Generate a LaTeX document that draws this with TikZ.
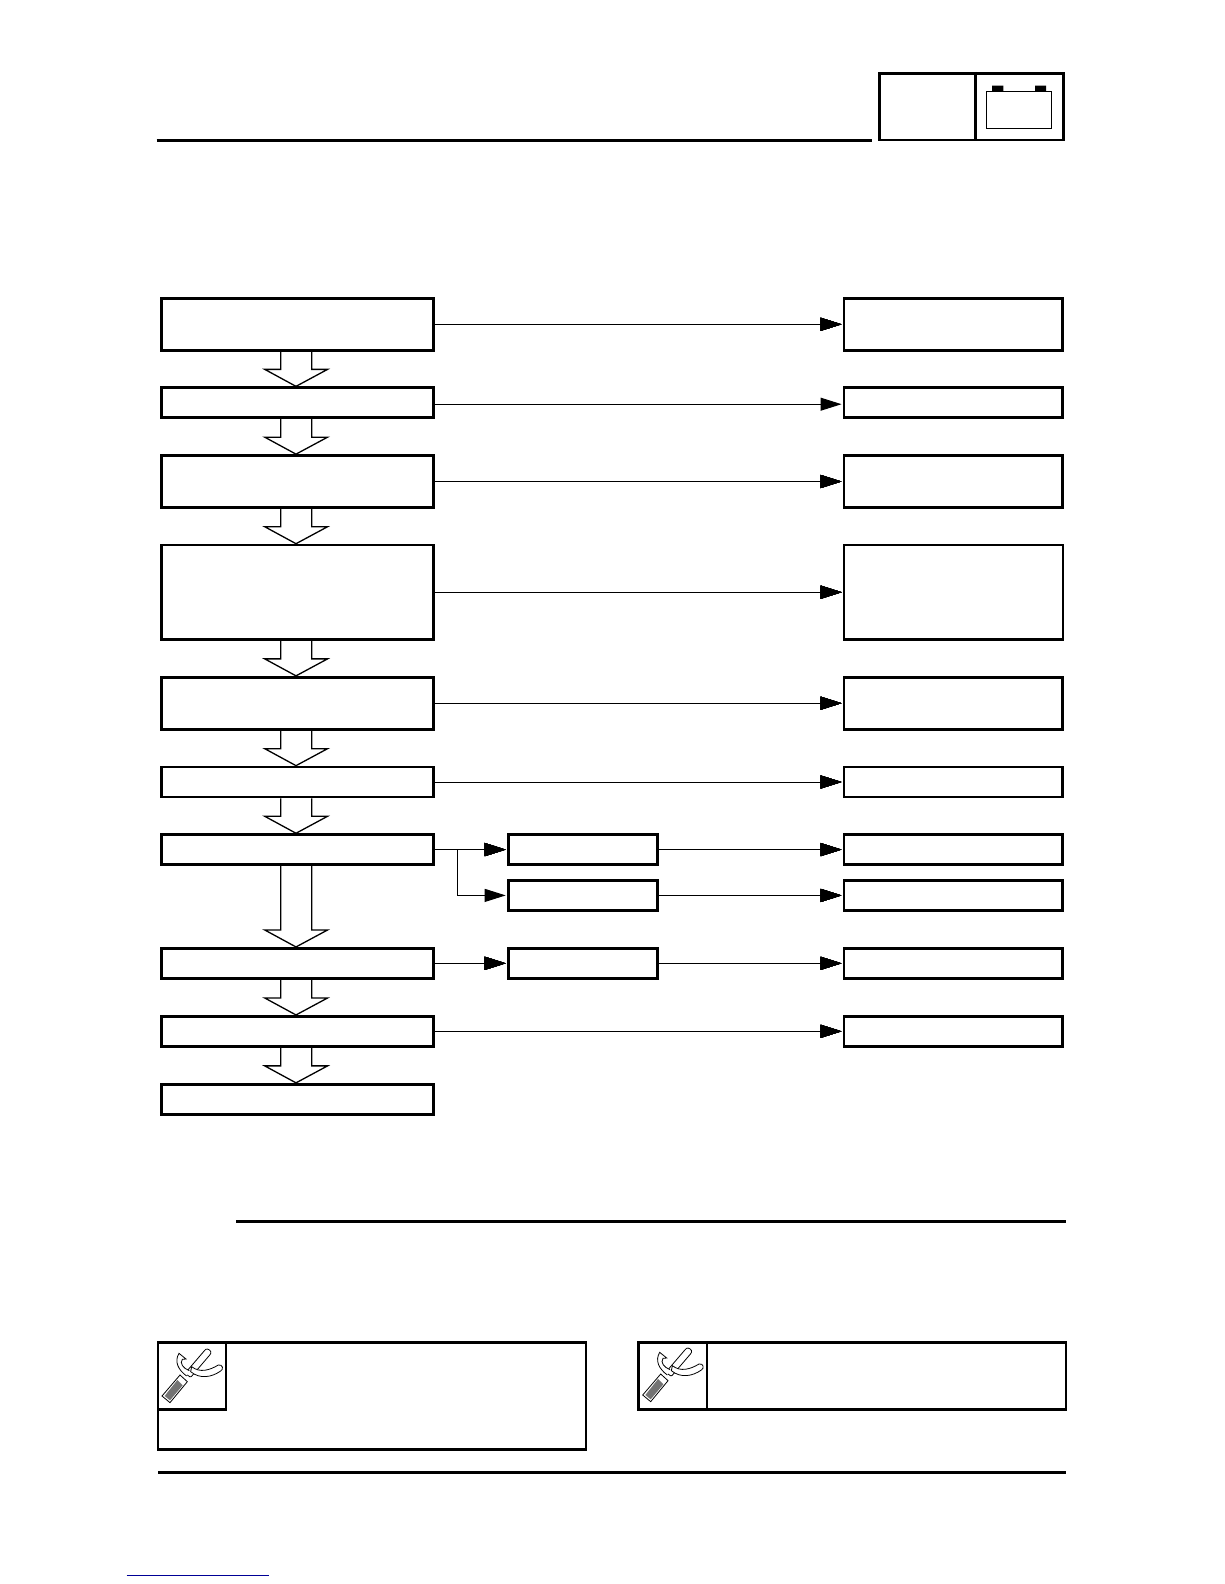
\documentclass[tikz,border=0pt]{standalone}
\usepackage{xcolor}
\usepackage{tikz}
\usetikzlibrary{arrows.meta,positioning,calc}
\definecolor{linkblue}{RGB}{0,0,150}
\tikzset{
    heavy box/.style={draw,line width=2.7pt,inner sep=0pt},
    left box/.style={heavy box,minimum width=272pt},
    right box/.style={heavy box,minimum width=218.7pt},
    mid box/.style={heavy box,minimum width=149.5pt},
    flat box/.style={minimum height=30pt},
    tall box/.style={minimum height=52pt},
    arr/.style={-{Triangle[length=21pt,width=13pt]},line width=1pt,shorten >=1.2pt},
    block line/.style={line width=1.3pt,line join=miter},
    heavy rule/.style={line width=3pt},
    tool line/.style={x=.3333pt,y=-.3333pt,line width=.8pt},
    pics/fittool/.style={code={
        \draw[tool line,fill=white,rounded corners=1pt]
            (105,160) -- (165,90) .. controls (172,84) and (186,92) .. (181,103) -- (122,172) -- cycle;
        \draw[tool line,fill=white]
            (125,140) .. controls (150,160) and (180,150) .. (205,135) .. controls (218,132) and (222,148) .. (212,153)
            .. controls (185,172) and (150,178) .. (122,155) -- cycle;
        \draw[tool line,fill=white]
            (110,168) .. controls (85,150) and (72,125) .. (87,100) -- (108,117) -- (97,118)
            .. controls (88,130) and (100,145) .. (118,152);
        \draw[tool line,fill=white]
            (36,228) -- (60,248) -- (112,185) -- (90,165) -- cycle;
        \fill[tool line,black!55] (44,228) -- (60,241) -- (98,196) -- (82,180) -- cycle;
    }},
}
\newcommand{\blockarr}[2]{
    \draw[block line] let \p1=(#1.south), \p2=(#2.north) in
        (\x1-16.6pt,\y1) -- (\x1-16.6pt,\y2+17pt) -- (\x1-32.6pt,\y2+17pt) -- (\x1-1.3pt,\y2)
        -- (\x1+30.3pt,\y2+17pt) -- (\x1+14.4pt,\y2+17pt) -- (\x1+14.4pt,\y1);
}
\begin{document}
\begin{tikzpicture}[x=1pt,y=-1pt]
    \useasboundingbox (0,0) rectangle (1224,1584);
    % header
    \draw[heavy rule] (156.6,140.7) -- (871.8,140.7);
    \node[heavy box,minimum width=184pt,minimum height=66.7pt] (headbox) at (971.3,106.7) {};
    \draw[heavy rule] (headbox.north west) ++(97.5,0) coordinate (headtop) -- (headtop |- headbox.south);
    \draw[line width=1.5pt] (986.3,91.3) rectangle (1051.7,128.3);
    \fill (992,85.7) rectangle (1003.3,91.3) (1035,85.7) rectangle (1046,91.3);
    % left column
    \node[left box,tall box] (lefta) at (297.3,324.3) {};
    \node[left box,flat box] (leftb) at (297.3,402.7) {};
    \node[left box,tall box] (leftc) at (297.3,481.5) {};
    \node[left box,minimum height=94.3pt] (leftd) at (297.3,592.2) {};
    \node[left box,tall box] (lefte) at (297.3,703.2) {};
    \node[left box,flat box] (leftf) at (297.3,782) {};
    \node[left box,flat box] (leftg) at (297.3,849.6) {};
    \node[left box,flat box] (lefth) at (297.3,963.3) {};
    \node[left box,flat box] (lefti) at (297.3,1031.3) {};
    \node[left box,flat box] (leftj) at (297.3,1099.2) {};
    % right column
    \node[right box,tall box] (righta) at (953.4,324.3) {};
    \node[right box,flat box] (rightb) at (953.4,402.7) {};
    \node[right box,tall box] (rightc) at (953.4,481.5) {};
    \node[right box,minimum height=94.3pt,line width=2.3pt] (rightd) at (953.4,592.2) {};
    \node[right box,tall box] (righte) at (953.4,703.2) {};
    \node[right box,flat box] (rightf) at (953.4,782) {};
    \node[right box,flat box] (rightg) at (953.4,849.6) {};
    \node[right box,flat box] (rightk) at (953.4,895.4) {};
    \node[right box,flat box] (righth) at (953.4,963.3) {};
    \node[right box,flat box] (righti) at (953.4,1031.3) {};
    % middle column
    \node[mid box,flat box] (midg) at (583,849.6) {};
    \node[mid box,flat box] (midk) at (583,895.4) {};
    \node[mid box,flat box] (midh) at (583,963.3) {};
    % block arrows
    \foreach \a/\b in {lefta/leftb,leftb/leftc,leftc/leftd,leftd/lefte,lefte/leftf,leftf/leftg,leftg/lefth,lefth/lefti,lefti/leftj}
        \blockarr{\a}{\b}
    % connectors
    \foreach \a/\b in {lefta/righta,leftc/rightc,leftd/rightd,lefte/righte,leftf/rightf,lefti/righti,leftg/midg,midg/rightg,midk/rightk,lefth/midh,midh/righth}
        \draw[arr] (\a) -- (\b);
    \draw[arr] ([yshift=-1.5pt]leftb.east) -- ([yshift=-1.5pt]rightb.west);
    \coordinate (splitg) at ($(leftg.east)+(23,0)$);
    \draw[arr] (splitg) |- (midk);
    % lower rules
    \draw[heavy rule] (236.4,1221.4) -- (1065.8,1221.4);
    \draw[heavy rule] (158.3,1472.4) -- (1065.8,1472.4);
    \draw[linkblue,line width=1pt] (126.7,1575.5) -- (269,1575.5);
    % tool boxes
    \node[heavy box,minimum width=428pt,minimum height=107pt] (toolboxa) at (372,1396.2) {};
    \node[heavy box,minimum width=68pt,minimum height=66.7pt] (toolicona) at (192,1376) {};
    \node[heavy box,minimum width=427.3pt,minimum height=66.7pt] (toolboxb) at (852.2,1376) {};
    \node[heavy box,minimum width=68.7pt,minimum height=66.7pt] (tooliconb) at (672.6,1376) {};
    \pic at (150,1320) {fittool};
    \pic at (630.7,1319) {fittool};
\end{tikzpicture}
\end{document}
